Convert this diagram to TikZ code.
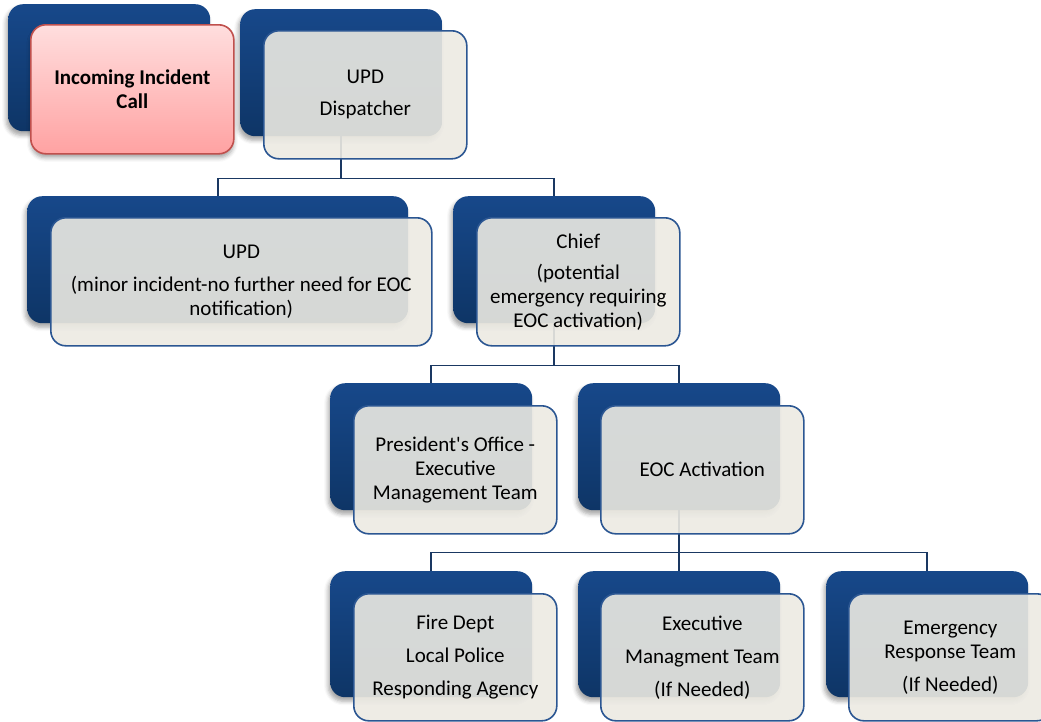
\documentclass[tikz,border=0pt]{standalone}
\usepackage{fontspec}
\setmainfont{Carlito}
\usetikzlibrary{shadows.blur}
\definecolor{navytop}{HTML}{17488A}
\definecolor{navybot}{HTML}{0E3566}
\definecolor{frontfill}{HTML}{ECEAE2}
\definecolor{frontline}{HTML}{2B5692}
\definecolor{pinktop}{HTML}{FFDEDE}
\definecolor{pinkbot}{HTML}{FFA2A2}
\definecolor{pinkline}{HTML}{C0504D}
\definecolor{connline}{HTML}{1A3862}
\tikzset{
  backbox/.style={rectangle, rounded corners=15pt, anchor=north west, inner sep=0pt,
    minimum width=202pt, minimum height=127pt, top color=navytop, bottom color=navybot,
    draw=none, blur shadow={shadow xshift=-2pt, shadow yshift=-4pt, shadow blur radius=4pt, shadow opacity=35}},
  frontbox/.style={rectangle, rounded corners=15pt, anchor=north west, inner sep=0pt,
    minimum width=203pt, minimum height=128pt, fill=frontfill, fill opacity=0.9, text opacity=1,
    draw=frontline, line width=1.6pt, align=center, text=black,
    font=\fontsize{21}{24}\selectfont},
  pinkbox/.style={rectangle, rounded corners=15pt, anchor=north west, inner sep=0pt,
    minimum width=203pt, minimum height=129pt, top color=pinktop, bottom color=pinkbot,
    draw=pinkline, line width=1.6pt, align=center, text=black,
    font=\bfseries\fontsize{21}{24}\selectfont,
    blur shadow={shadow xshift=0pt, shadow yshift=-4pt, shadow blur radius=4pt, shadow opacity=35}},
  conn/.style={draw=connline, line width=1.8pt}
}
\begin{document}
\begin{tikzpicture}[x=1pt,y=-1pt]
\useasboundingbox (0,0) rectangle (1041,721);
% back boxes
\node[backbox] (d1) at (8,4) {};
\node[backbox] (d2) at (240,9) {};
\node[backbox, minimum width=381pt] (d3) at (27,196) {};
\node[backbox] (d4) at (453,196) {};
\node[backbox] (d5) at (330,383) {};
\node[backbox] (d6) at (578,383) {};
\node[backbox, minimum height=126pt] (d7) at (330,571) {};
\node[backbox, minimum height=126pt] (d8) at (578,571) {};
\node[backbox, minimum height=126pt] (d9) at (826,571) {};
% connectors
\draw[conn] (d2.south) -- ++(0,42) -| (d3.north);
\draw[conn] (d2.south) -- ++(0,42) -| (d4.north);
\draw[conn] (d4.south) -- ++(0,42) -| (d5.north);
\draw[conn] (d4.south) -- ++(0,42) -| (d6.north);
\draw[conn] (d6.south) -- ++(0,42) -| (d7.north);
\draw[conn] (d6.south) -- ++(0,42) -| (d8.north);
\draw[conn] (d6.south) -- ++(0,42) -| (d9.north);
% front boxes
\node[pinkbox] (f1) at (30,24) {Incoming Incident\\Call};
\node[frontbox] (f2) at (263,30) {UPD\\[8pt]Dispatcher};
\node[frontbox, minimum width=381pt] (f3) at (50,217) {UPD\\[9pt](minor incident-no further need for EOC\\notification)};
\node[frontbox] (f4) at (476,217) {Chief\\[7pt](potential\\emergency requiring\\EOC activation)};
\node[frontbox] (f5) at (353,405) {President\textquotesingle s Office -\\Executive\\Management Team};
\node[frontbox] (f6) at (600,405) {EOC Activation};
\node[frontbox, minimum height=127pt] (f7) at (353,593) {Fire Dept\\[9pt]Local Police\\[9pt]Responding Agency};
\node[frontbox, minimum height=127pt] (f8) at (600,593) {Executive\\[9pt]Managment Team\\[9pt](If Needed)};
\node[frontbox, minimum height=127pt] (f9) at (848,593) {Emergency\\Response Team\\[9pt](If Needed)};
\end{tikzpicture}
\end{document}
